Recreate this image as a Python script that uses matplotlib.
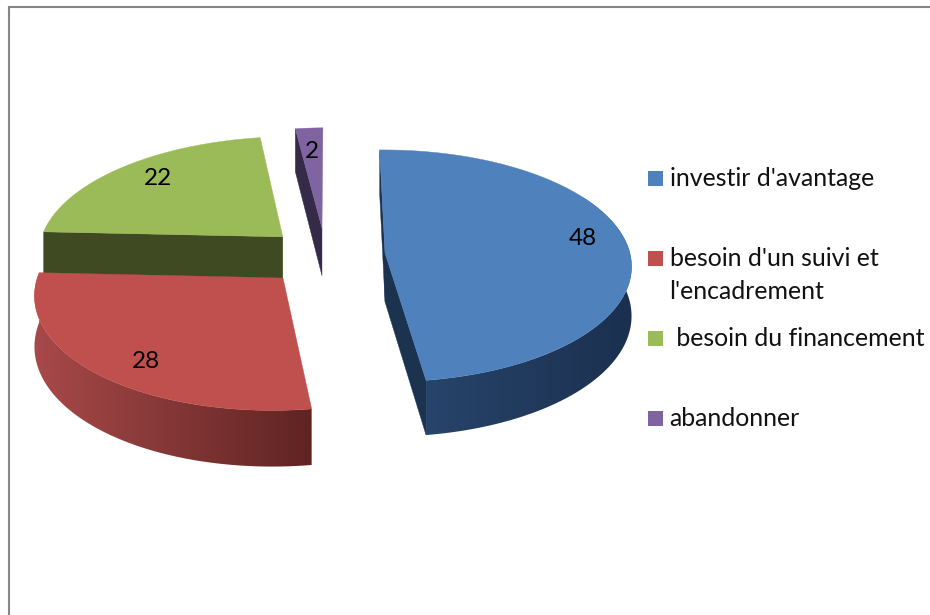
import numpy as np
import matplotlib
matplotlib.use("Agg")
import matplotlib.pyplot as plt
from matplotlib.colors import to_rgb
from matplotlib.patches import Polygon, Rectangle

plt.rcParams['font.family'] = ['Lato', 'DejaVu Sans']

# data
labels = ["investir d'avantage", "besoin d'un suivi et\nl'encadrement",
          " besoin du financement", "abandonner"]
values = [48, 28, 22, 2]
colors = ['#4F81BD', '#C0504D', '#9BBB59', '#8064A2']

# layout of the fake 3d pie, in pixels
cx, cy = 370, 258
rx, ry = 246, 115.6
persp = 0.111
depth = 49
rotation = -1
shift_x = [0.0613, -0.347, -0.362, -0.201]
shift_y = [0.043, -0.17, 0.187, 0.267]
slice_r = [1.0, 0.98, 1.0, 1.02]
label_r = [0.80, 0.83, 0.78, 0.75]
label_dx = [4, 16, 2, 0]
label_dy = [-7, 6, -3, 0]
legend_y = [178, 275, 338, 418]

fig = plt.figure(figsize=(9.3, 6.15), dpi=100)
ax = fig.add_axes([0, 0, 1, 1])
ax.axis('off')

# grey frame, open on the right and bottom
ax.plot([8.5, 8.5, 930], [615, 6.5, 6.5], color='#868686', lw=1.5, solid_joinstyle='miter')


def project(i, theta, r=1.0, drop=0.0):
    # theta in degrees, clockwise from 12 o'clock
    t = np.radians(theta)
    x = r * slice_r[i] * np.sin(t) + shift_x[i]
    y = r * slice_r[i] * np.cos(t) + shift_y[i]
    s = 1 / (1 + persp * y)
    return np.column_stack([cx + rx * x * s, cy - ry * y * s + drop * depth * s])


def wall(i, t0, t1, c_left, c_right, z):
    # outer wall of a slice, a horizontal gradient clipped to its outline
    ts = np.linspace(t0, t1, 150)
    outline = np.vstack([project(i, ts), project(i, ts[::-1], drop=1)])
    x0, x1 = outline[:, 0].min(), outline[:, 0].max()
    y0, y1 = outline[:, 1].min(), outline[:, 1].max()
    f = np.linspace(0, 1, 256)[:, None]
    grad = (np.array(to_rgb(c_left)) + (np.array(to_rgb(c_right)) - np.array(to_rgb(c_left))) * f)[None, :, :]
    im = ax.imshow(grad, extent=[x0, x1, y1, y0], aspect='auto', zorder=z, interpolation='bilinear')
    clip = Polygon(outline, closed=True, transform=ax.transData)
    im.set_clip_path(clip)


def cut_face(i, theta, color, z):
    a = project(i, np.array([0.0]), r=0)[0]
    b = project(i, np.array([theta]))[0]
    a2 = project(i, np.array([0.0]), r=0, drop=1)[0]
    b2 = project(i, np.array([theta]), drop=1)[0]
    ax.add_patch(Polygon([a, b, b2, a2], closed=True, fc=color, ec=color, lw=0.3, zorder=z))


def top_face(i, t0, t1, z):
    ts = np.linspace(t0, t1, 120)
    arc = project(i, ts)
    apex = project(i, np.array([0.0]), r=0)
    ax.add_patch(Polygon(np.vstack([apex, arc]), closed=True, fc=colors[i], ec=colors[i], lw=0.3, zorder=z))


edges = rotation + np.concatenate([[0], np.cumsum(values)]) * 360 / sum(values)

# purple at the back
cut_face(3, edges[3], '#352A47', 1)
top_face(3, edges[3], edges[4], 2)
# green
cut_face(2, edges[2], '#404A22', 3)
top_face(2, edges[2], edges[3], 4)
# red
wall(1, edges[1], edges[2], '#A8494A', '#5F2422', 5)
top_face(1, edges[1], edges[2], 6)
# blue
cut_face(0, edges[0], '#1C3350', 7)
cut_face(0, edges[1], '#1C3350', 7)
wall(0, edges[0] + 60, edges[1], '#27446A', '#1B3050', 8)
top_face(0, edges[0], edges[1], 9)

# data labels
for i, v in enumerate(values):
    mid = (edges[i] + edges[i + 1]) / 2
    p = project(i, np.array([mid]), r=label_r[i])[0]
    ax.text(p[0] + label_dx[i], p[1] + label_dy[i], str(v), ha='center', va='center',
            fontsize=17.5, color='black', zorder=20)

# legend
for i, lab in enumerate(labels):
    ax.add_patch(Rectangle((648, legend_y[i] - (7.5 if i != 1 else 24)), 15, 15, fc=colors[i], ec='none'))
    ax.text(669.5, legend_y[i], lab, ha='left', va='center', fontsize=17.9, color='#111111',
            linespacing=1.5, zorder=20)

ax.set_xlim(0, 930)
ax.set_ylim(615, 0)
fig.savefig('out.png', dpi=100)
